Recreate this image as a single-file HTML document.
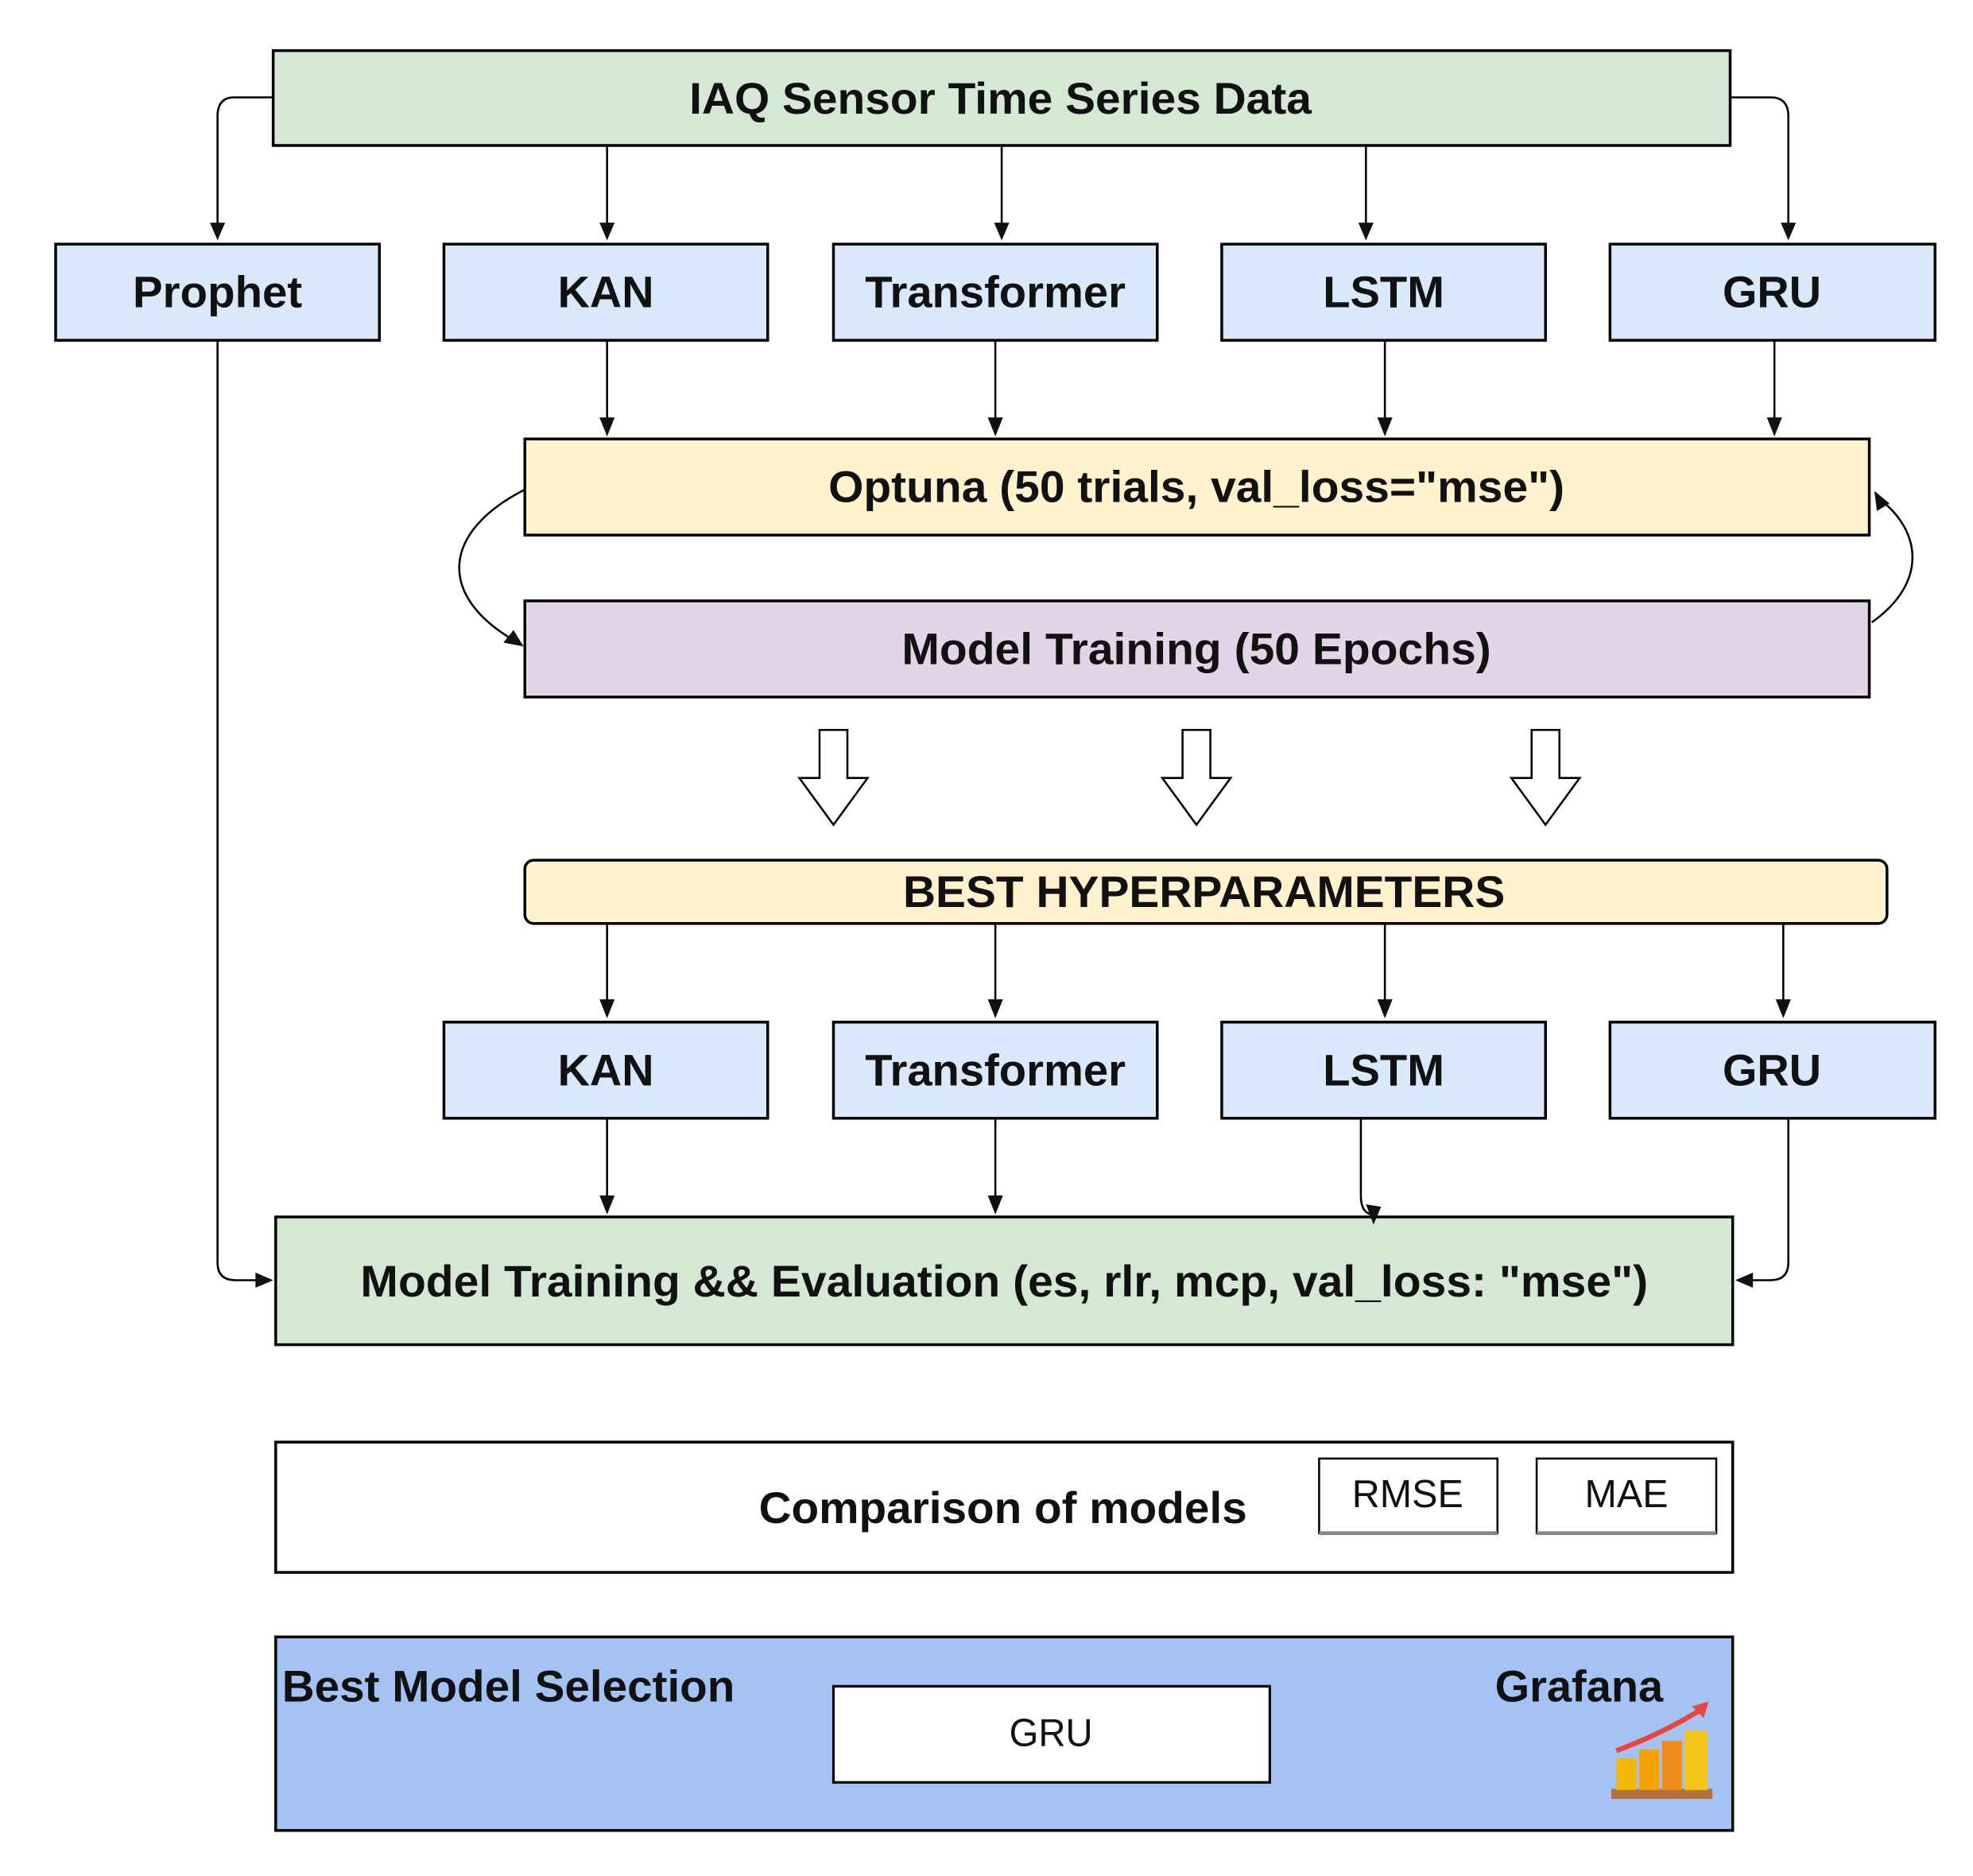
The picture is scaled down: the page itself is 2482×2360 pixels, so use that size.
<!DOCTYPE html>
<html><head><meta charset="utf-8"><style>html,body{margin:0;padding:0;background:#fff}svg{display:block}</style></head>
<body>
<svg width="2482" height="2360" viewBox="0 0 1560 1483" preserveAspectRatio="none" xmlns="http://www.w3.org/2000/svg" font-family="Liberation Sans, Arial, sans-serif">
<style>
.b{stroke:#000;stroke-width:2.2}
.l{stroke:#000;stroke-width:1.6;fill:none}
.t{font-weight:bold;font-size:35px;text-anchor:middle;dominant-baseline:central;fill:#111}
.h{fill:#111}
</style>
<rect class="b" x="216" y="40" width="1152" height="75" fill="#d5e8d4"/>
<text class="t" x="791" y="78" textLength="492" lengthAdjust="spacingAndGlyphs">IAQ Sensor Time Series Data</text>

<g fill="#dae8fc">
<rect class="b" x="44" y="193" width="256" height="76"/>
<rect class="b" x="351" y="193" width="256" height="76"/>
<rect class="b" x="659" y="193" width="256" height="76"/>
<rect class="b" x="966" y="193" width="256" height="76"/>
<rect class="b" x="1273" y="193" width="257" height="76"/>
<rect class="b" x="351" y="808" width="256" height="76"/>
<rect class="b" x="659" y="808" width="256" height="76"/>
<rect class="b" x="966" y="808" width="256" height="76"/>
<rect class="b" x="1273" y="808" width="257" height="76"/>
</g>
<text class="t" x="172" y="231" textLength="134" lengthAdjust="spacingAndGlyphs">Prophet</text>
<text class="t" x="479" y="231" textLength="76" lengthAdjust="spacingAndGlyphs">KAN</text>
<text class="t" x="787" y="231" textLength="206" lengthAdjust="spacingAndGlyphs">Transformer</text>
<text class="t" x="1094" y="231" textLength="96" lengthAdjust="spacingAndGlyphs">LSTM</text>
<text class="t" x="1401" y="231" textLength="78" lengthAdjust="spacingAndGlyphs">GRU</text>
<text class="t" x="479" y="846" textLength="76" lengthAdjust="spacingAndGlyphs">KAN</text>
<text class="t" x="787" y="846" textLength="206" lengthAdjust="spacingAndGlyphs">Transformer</text>
<text class="t" x="1094" y="846" textLength="96" lengthAdjust="spacingAndGlyphs">LSTM</text>
<text class="t" x="1401" y="846" textLength="78" lengthAdjust="spacingAndGlyphs">GRU</text>

<rect class="b" x="415" y="347" width="1063" height="76" fill="#fff2cc"/>
<text class="t" x="946" y="385" textLength="582" lengthAdjust="spacingAndGlyphs">Optuna (50 trials, val_loss="mse")</text>
<rect class="b" x="415" y="475" width="1063" height="76" fill="#e1d5e7"/>
<text class="t" x="946" y="513" textLength="466" lengthAdjust="spacingAndGlyphs">Model Training (50 Epochs)</text>

<rect class="b" x="415" y="680" width="1077" height="50" rx="7" fill="#fff2cc"/>
<text class="t" x="952" y="705" textLength="476" lengthAdjust="spacingAndGlyphs">BEST HYPERPARAMETERS</text>

<rect class="b" x="218" y="962" width="1152" height="101" fill="#d5e8d4"/>
<text class="t" x="794" y="1013" textLength="1018" lengthAdjust="spacingAndGlyphs">Model Training &amp;&amp; Evaluation (es, rlr, mcp, val_loss: "mse")</text>

<rect class="b" x="218" y="1140" width="1152" height="103" fill="#fff"/>
<text class="t" x="793" y="1192" textLength="386" lengthAdjust="spacingAndGlyphs">Comparison of models</text>
<rect x="1043" y="1153" width="141" height="59" fill="#fff" stroke="#000" stroke-width="1.6"/>
<line x1="1043" y1="1212" x2="1184" y2="1212" stroke="#888" stroke-width="3"/>
<text x="1113" y="1181" font-size="31" text-anchor="middle" dominant-baseline="central" fill="#111" textLength="88" lengthAdjust="spacingAndGlyphs">RMSE</text>
<rect x="1215" y="1153" width="142" height="59" fill="#fff" stroke="#000" stroke-width="1.6"/>
<line x1="1215" y1="1212" x2="1357" y2="1212" stroke="#888" stroke-width="3"/>
<text x="1286" y="1181" font-size="31" text-anchor="middle" dominant-baseline="central" fill="#111" textLength="66" lengthAdjust="spacingAndGlyphs">MAE</text>

<rect class="b" x="218" y="1294" width="1152" height="153" fill="#a4c2f4"/>
<text x="223" y="1333" font-size="35" font-weight="bold" dominant-baseline="central" fill="#111" textLength="358" lengthAdjust="spacingAndGlyphs">Best Model Selection</text>
<text x="1182" y="1333" font-size="35" font-weight="bold" dominant-baseline="central" fill="#111" textLength="133" lengthAdjust="spacingAndGlyphs">Grafana</text>
<rect x="659" y="1333" width="345" height="76" fill="#fff" stroke="#000" stroke-width="2"/>
<text x="831" y="1370" font-size="31" text-anchor="middle" dominant-baseline="central" fill="#111" textLength="66" lengthAdjust="spacingAndGlyphs">GRU</text>
<rect x="1274" y="1414" width="80" height="8" fill="#b5703e"/>
<rect x="1278" y="1390" width="16" height="25" fill="#f5b800"/>
<rect x="1296" y="1383" width="16" height="32" fill="#f4a300"/>
<rect x="1314" y="1376" width="16" height="39" fill="#f08c1a"/>
<rect x="1332" y="1368" width="18" height="47" fill="#f5c518"/>
<path d="M1278 1384 Q1315 1370 1344 1352" stroke="#e8463a" stroke-width="4" fill="none"/>
<path d="M1338 1349 L1351 1345 L1347 1358 Z" fill="#e8463a"/>

<g class="l">
<path d="M216 77 H185 Q172 77 172 92 V184"/>
<path d="M480 115 V184"/>
<path d="M792 115 V184"/>
<path d="M1080 115 V184"/>
<path d="M1368 77 H1400 Q1414 77 1414 92 V184"/>
<path d="M480 269 V338"/>
<path d="M787 269 V338"/>
<path d="M1095 269 V338"/>
<path d="M1403 269 V338"/>
<path d="M415 387 C350 420 345 470 406 506"/>
<path d="M1480 492 C1525 460 1518 420 1488 396"/>
<path d="M480 730 V797"/>
<path d="M787 730 V797"/>
<path d="M1095 730 V797"/>
<path d="M1410 730 V797"/>
<path d="M480 884 V952"/>
<path d="M787 884 V952"/>
<path d="M1076 884 V945 Q1076 958 1084 960"/>
<path d="M1414 884 V998 Q1414 1012 1400 1012 H1380"/>
<path d="M172 269 V998 Q172 1012 186 1012 H207"/>
</g>
<g class="h">
<path d="M166 176 L178 176 L172 190 Z"/>
<path d="M474 176 L486 176 L480 190 Z"/>
<path d="M786 176 L798 176 L792 190 Z"/>
<path d="M1074 176 L1086 176 L1080 190 Z"/>
<path d="M1408 176 L1420 176 L1414 190 Z"/>
<path d="M474 330 L486 330 L480 345 Z"/>
<path d="M781 330 L793 330 L787 345 Z"/>
<path d="M1089 330 L1101 330 L1095 345 Z"/>
<path d="M1397 330 L1409 330 L1403 345 Z"/>
<path d="M474 790 L486 790 L480 805 Z"/>
<path d="M781 790 L793 790 L787 805 Z"/>
<path d="M1089 790 L1101 790 L1095 805 Z"/>
<path d="M1404 790 L1416 790 L1410 805 Z"/>
<path d="M474 945 L486 945 L480 960 Z"/>
<path d="M781 945 L793 945 L787 960 Z"/>
<path d="M1080 952 L1092 954 L1086 968 Z"/>
<path d="M1372 1012 L1386 1006 L1386 1018 Z"/>
<path d="M216 1012 L202 1006 L202 1018 Z"/>
<path d="M414 511 L398 508 L406 498 Z"/>
<path d="M1482 388 L1484 404 L1494 398 Z"/>
</g>
<g fill="#fff" stroke="#000" stroke-width="1.6">
<path d="M648 577 H670 V615 H686 L659 652 L632 615 H648 Z"/>
<path d="M935 577 H957 V615 H973 L946 652 L919 615 H935 Z"/>
<path d="M1211 577 H1233 V615 H1249 L1222 652 L1195 615 H1211 Z"/>
</g>
</svg>
</body></html>
